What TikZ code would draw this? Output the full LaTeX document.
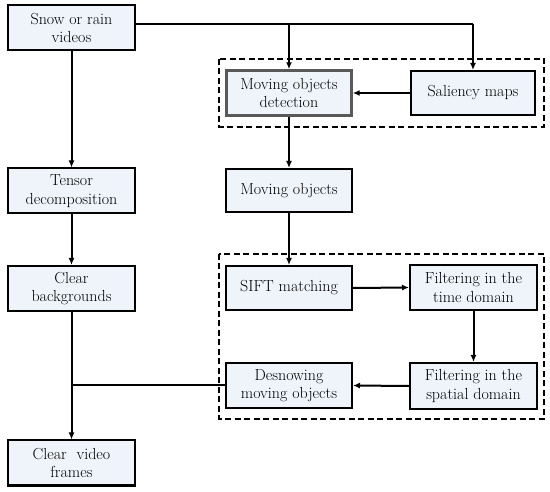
\documentclass[tikz,border=0pt]{standalone}
\usepackage{fontspec}
\usetikzlibrary{arrows.meta}
\definecolor{boxfill}{HTML}{EFF4FA}
\begin{document}
\begin{tikzpicture}[x=1pt,y=-1pt,
  box/.style={draw=black,line width=2pt,fill=boxfill,minimum width=127pt,minimum height=45pt,
    align=center,inner sep=1pt,font=\fontsize{16}{18.5}\selectfont},
  graybox/.style={box,draw=black!65,line width=2.4pt},
  conn/.style={line width=2pt},
  arr/.style={conn,-{Latex[length=7pt,width=6pt]}},
  dbox/.style={draw=black,line width=2pt,dash pattern=on 6pt off 3.5pt}]
\useasboundingbox (0,0) rectangle (550,492);
\draw[dbox] (219,59) rectangle (544,127);
\draw[dbox] (219,254) rectangle (544,419);
\node[box] (snow) at (71.5,28) {Snow or rain\\videos};
\node[box] (tensor) at (71.5,191) {Tensor\\decomposition};
\node[box] (clearbg) at (71.5,288.5) {Clear\\backgrounds};
\node[box] (clearvid) at (71.5,463) {Clear\ \ video\\frames};
\node[graybox,minimum width=125pt,minimum height=45pt] (mod) at (289,93) {Moving objects\\detection};
\node[box,minimum width=124pt,minimum height=44pt] (sal) at (473,93) {Saliency maps};
\node[box,minimum width=126pt,minimum height=43pt] (mo) at (289,190.5) {Moving objects};
\node[box,minimum width=126pt,minimum height=44pt] (sift) at (289,288) {SIFT matching};
\node[box] (time) at (473.5,287.5) {Filtering in the\\time domain};
\node[box,minimum height=46pt] (spatial) at (473.5,386) {Filtering in the\\spatial domain};
\node[box,minimum width=126pt,minimum height=45pt] (desnow) at (289,385.5) {Desnowing\\moving objects};
\coordinate (j1) at (mod.north |- 0,24);
\coordinate (j2) at (sal.north |- 0,24);
\coordinate (j3) at (clearbg.south |- desnow.west);
\draw[conn] ([yshift=4pt]snow.east) -- (j2);
\draw[arr] (j1) -- (mod.north);
\draw[arr] (j2) -- (sal.north);
\draw[arr] (sal.west) -- (mod.east);
\draw[arr] (snow.south) -- (tensor.north);
\draw[arr] (tensor.south) -- (clearbg.north);
\draw[arr] (clearbg.south) -- (clearvid.north);
\draw[arr] (mod.south) -- (mo.north);
\draw[arr] (mo.south) -- (sift.north);
\draw[arr] (sift.east) -- (time.west);
\draw[arr] (time.south) -- (spatial.north);
\draw[arr] (spatial.west) -- (desnow.east);
\draw[conn] (desnow.west) -- (j3);
\end{tikzpicture}
\end{document}
